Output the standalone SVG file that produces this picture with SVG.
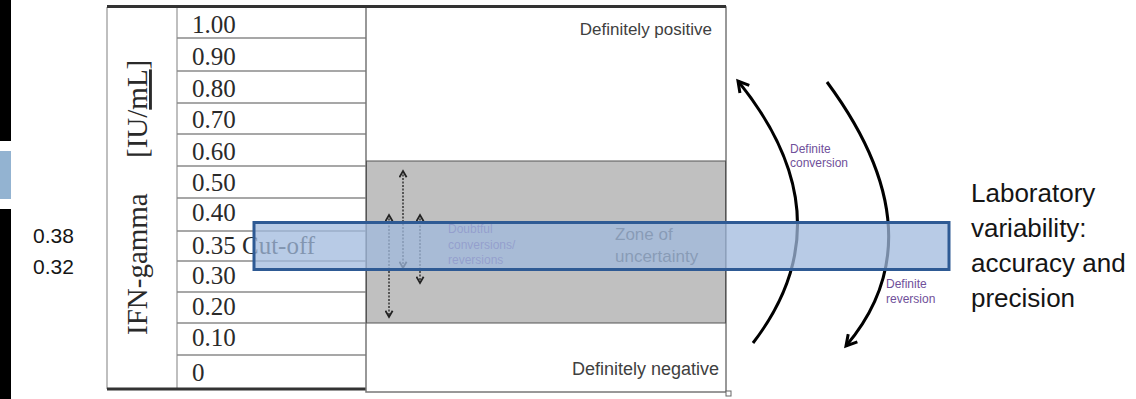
<svg xmlns="http://www.w3.org/2000/svg" width="1136" height="399" viewBox="0 0 1136 399">
<style>
.num{font-family:"Liberation Serif",serif;font-size:25px;fill:#2a2a2a}
.axis{font-family:"Liberation Serif",serif;font-size:29px;fill:#2a2a2a}
.row{stroke:#8a8a8a;stroke-width:1.5}
.zone{font-family:"Liberation Sans",sans-serif;fill:#404040}
.purple{font-family:"Liberation Sans",sans-serif;font-size:12px;fill:#70509a}
.side{font-family:"Liberation Sans",sans-serif;fill:#151515}
.dot{stroke:#333;stroke-width:1.5;stroke-dasharray:2 1.5;fill:none}
.curve{stroke:#000;stroke-width:3;fill:none}
</style>
<defs>
<marker id="chev" viewBox="0 0 10 10" refX="8" refY="5" markerWidth="5" markerHeight="5" orient="auto-start-reverse">
<path d="M1,1 L8,5 L1,9" fill="none" stroke="#000" stroke-width="2"/>
</marker>
<marker id="chevS" viewBox="0 0 10 10" refX="8" refY="5" markerWidth="9" markerHeight="9" markerUnits="userSpaceOnUse" orient="auto-start-reverse">
<path d="M1,1 L8,5 L1,9" fill="none" stroke="#222" stroke-width="2"/>
</marker>
</defs>

<g id="side-bars">
<rect x="0" y="0" width="11" height="141" fill="#000"/>
<rect x="0" y="151" width="11" height="48" fill="#93b3d1"/>
<rect x="0" y="209" width="11" height="190" fill="#000"/>
</g>

<g id="side-values">
<text class="side" x="33" y="243" font-size="21">0.38</text>
<text class="side" x="33" y="274" font-size="21">0.32</text>
</g>

<g id="table">
<line x1="107" y1="7" x2="107" y2="389" stroke="#aaa" stroke-width="1.5"/>
<line x1="177" y1="7" x2="177" y2="389" stroke="#aaa" stroke-width="1.5"/>
<line class="row" x1="177" y1="38" x2="366" y2="38"/>
<line class="row" x1="177" y1="71" x2="366" y2="71"/>
<line class="row" x1="177" y1="103" x2="366" y2="103"/>
<line class="row" x1="177" y1="134" x2="366" y2="134"/>
<line class="row" x1="177" y1="166" x2="366" y2="166"/>
<line class="row" x1="177" y1="198" x2="366" y2="198"/>
<line class="row" x1="177" y1="231" x2="366" y2="231"/>
<line class="row" x1="177" y1="261" x2="366" y2="261"/>
<line class="row" x1="177" y1="292" x2="366" y2="292"/>
<line class="row" x1="177" y1="323" x2="366" y2="323"/>
<line class="row" x1="177" y1="355" x2="366" y2="355"/>
<text class="num" x="192" y="33">1.00</text>
<text class="num" x="192" y="65">0.90</text>
<text class="num" x="192" y="97">0.80</text>
<text class="num" x="192" y="128">0.70</text>
<text class="num" x="192" y="160">0.60</text>
<text class="num" x="192" y="191">0.50</text>
<text class="num" x="192" y="221">0.40</text>
<text class="num" x="192" y="254">0.35 Cut-off</text>
<text class="num" x="192" y="284">0.30</text>
<text class="num" x="192" y="315">0.20</text>
<text class="num" x="192" y="346">0.10</text>
<text class="num" x="192" y="381">0</text>
<text class="axis" transform="translate(147,335) rotate(-90)">IFN-gamma</text>
<text class="axis" transform="translate(147,158) rotate(-90)">[IU/<tspan text-decoration="underline">mL</tspan>]</text>
<line x1="107" y1="389" x2="367" y2="389" stroke="#333" stroke-width="3"/>
</g>

<g id="zones">
<rect x="366" y="7" width="360" height="385" fill="#fff" stroke="#777" stroke-width="1.5"/>
<rect x="366.5" y="161" width="359" height="162" fill="#c0c0c0" stroke="#555" stroke-width="1"/>
<rect x="726" y="391" width="5" height="5" fill="#fff" stroke="#666" stroke-width="1"/>
<text class="zone" x="712" y="35" font-size="17" text-anchor="end">Definitely positive</text>
<text class="zone" x="719" y="375" font-size="18" text-anchor="end">Definitely negative</text>
<text class="zone" x="615" y="240" font-size="17">Zone of</text>
<text class="zone" x="615" y="262" font-size="17">uncertainty</text>
<text class="purple" x="448" y="233">Doubtful</text>
<text class="purple" x="448" y="249">conversions/</text>
<text class="purple" x="448" y="264">reversions</text>
</g>

<line x1="107" y1="6.5" x2="726" y2="6.5" stroke="#333" stroke-width="3"/>

<g id="connectors">
<line class="dot" x1="403" y1="171" x2="403" y2="268" marker-start="url(#chevS)" marker-end="url(#chevS)"/>
<line class="dot" x1="389" y1="215" x2="389" y2="317" marker-start="url(#chevS)" marker-end="url(#chevS)"/>
<line class="dot" x1="420" y1="215" x2="420" y2="283" marker-start="url(#chevS)" marker-end="url(#chevS)"/>
<path class="curve" d="M753,343 Q849,218 738,81" marker-end="url(#chev)"/>
<path class="curve" d="M827,82 Q940,235 846,346" marker-end="url(#chev)"/>
</g>

<g id="arrow-labels">
<text class="purple" x="790" y="153" font-size="12">Definite</text>
<text class="purple" x="790" y="167" font-size="12">conversion</text>
<text class="purple" x="886" y="288" font-size="12">Definite</text>
<text class="purple" x="886" y="303" font-size="12">reversion</text>
</g>

<g id="band">
<rect x="254" y="222.5" width="695" height="47" fill="#a0bade" fill-opacity="0.75" stroke="#2e5a94" stroke-width="3"/>
</g>

<g id="variability-label">
<text class="side" x="971" y="202" font-size="26">Laboratory</text>
<text class="side" x="971" y="237" font-size="26">variability:</text>
<text class="side" x="971" y="272" font-size="26">accuracy and</text>
<text class="side" x="971" y="307" font-size="26">precision</text>
</g>
</svg>
